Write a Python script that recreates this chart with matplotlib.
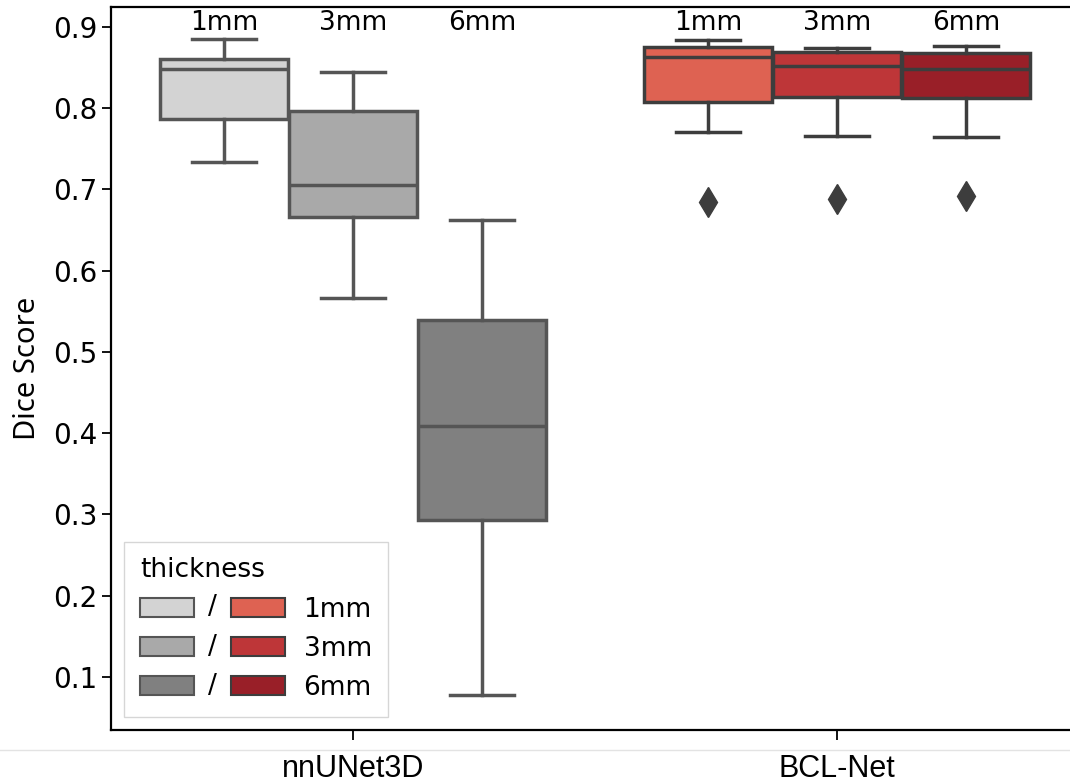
import matplotlib
matplotlib.use("Agg")
import matplotlib.pyplot as plt
from matplotlib.patches import Rectangle
from matplotlib.legend_handler import HandlerBase
from matplotlib.lines import Line2D
from matplotlib.text import Text

# data
models = ["nnUNet3D", "BCL-Net"]
thickness = ["1mm", "3mm", "6mm"]

nn_q1 = [0.787, 0.666, 0.293]
nn_med = [0.848, 0.7055, 0.409]
nn_q3 = [0.861, 0.797, 0.539]
nn_lo = [0.734, 0.5665, 0.078]
nn_hi = [0.885, 0.845, 0.6625]
nn_fliers = [[], [], []]

bcl_q1 = [0.808, 0.814, 0.8127]
bcl_med = [0.863, 0.852, 0.848]
bcl_q3 = [0.875, 0.869, 0.868]
bcl_lo = [0.771, 0.766, 0.765]
bcl_hi = [0.884, 0.874, 0.8766]
bcl_fliers = [[0.685], [0.688], [0.692]]

gray_colors = ["#d3d3d3", "#a9a9a9", "#808080"]
red_colors = ["#de6252", "#be3638", "#991f28"]
gray_edge = "#555555"
red_edge = "#3d3d3d"


class PairHandler(HandlerBase):
    # gray patch / red patch
    def create_artists(self, legend, orig_handle, xdescent, ydescent,
                       width, height, fontsize, trans):
        c1, c2 = orig_handle
        pw = width * 0.375
        r1 = Rectangle((-xdescent, -ydescent), pw, height, facecolor=c1,
                       edgecolor=gray_edge, lw=1.5, transform=trans)
        r2 = Rectangle((-xdescent + width - pw, -ydescent), pw, height,
                       facecolor=c2, edgecolor=red_edge, lw=1.5, transform=trans)
        t = Text(-xdescent + width / 2, -ydescent + height / 2, "/",
                 ha="center", va="center", fontsize=fontsize, transform=trans)
        return [r1, r2, t]


fig = plt.figure(figsize=(10.7, 7.83), dpi=100)
ax = fig.add_axes([0.1037, 0.0677, 0.9047, 0.9234])

hue_w = 0.8 / 3
box_w = 0.264


def make_stats(q1, med, q3, lo, hi, fl):
    return [dict(q1=q1[i], med=med[i], q3=q3[i], whislo=lo[i], whishi=hi[i],
                 fliers=fl[i]) for i in range(3)]


groups = [
    (make_stats(nn_q1, nn_med, nn_q3, nn_lo, nn_hi, nn_fliers), gray_colors, gray_edge),
    (make_stats(bcl_q1, bcl_med, bcl_q3, bcl_lo, bcl_hi, bcl_fliers), red_colors, red_edge),
]

for gi, (stats, colors, edge) in enumerate(groups):
    pos = [gi + (j - 1) * hue_w for j in range(3)]
    b = ax.bxp(stats, positions=pos, widths=box_w, capwidths=box_w / 2,
               patch_artist=True, manage_ticks=False,
               boxprops=dict(edgecolor=edge, linewidth=2.5),
               medianprops=dict(color=edge, linewidth=2.5),
               whiskerprops=dict(color=edge, linewidth=2.5),
               capprops=dict(color=edge, linewidth=2.5),
               flierprops=dict(marker="d", markerfacecolor=edge,
                               markeredgecolor=edge, markersize=15))
    for patch, c in zip(b["boxes"], colors):
        patch.set_facecolor(c)
    for p, lab in zip(pos, thickness):
        ax.text(p, 0.905, lab, ha="center", va="center", fontsize=19)

ax.set_xlim(-0.5, 1.5)
ax.set_ylim(0.0348, 0.9246)
ax.set_yticks([0.1, 0.2, 0.3, 0.4, 0.5, 0.6, 0.7, 0.8, 0.9])
ax.set_yticklabels(["0.1", "0.2", "0.3", "0.4", "0.5", "0.6", "0.7", "0.8", "0.9"])
ax.set_xticks([0, 1])
ax.set_xticklabels(models, fontsize=22, family="Liberation Sans")
ax.tick_params(axis="y", labelsize=20, length=6.5, width=1.3)
ax.tick_params(axis="x", length=7, width=1.3, pad=10)
for s in ax.spines.values():
    s.set_linewidth(1.6)
ax.set_ylabel("Dice Score", fontsize=21, family="Noto Sans", labelpad=8)

handles = [(gray_colors[i], red_colors[i]) for i in range(3)]
ax.legend(handles, thickness, handler_map={tuple: PairHandler()},
          title="thickness", loc="lower left", fontsize=19, title_fontsize=19,
          handlelength=5.5, handleheight=0.72, handletextpad=0.7,
          labelspacing=0.5, borderpad=0.6, borderaxespad=0.5, fancybox=False,
          edgecolor="#cccccc", alignment="left")

fig.add_artist(Line2D([0, 1], [0.0421, 0.0421], transform=fig.transFigure,
                      color="#e3e3e3", lw=1))

fig.savefig("out.png", dpi=100)
